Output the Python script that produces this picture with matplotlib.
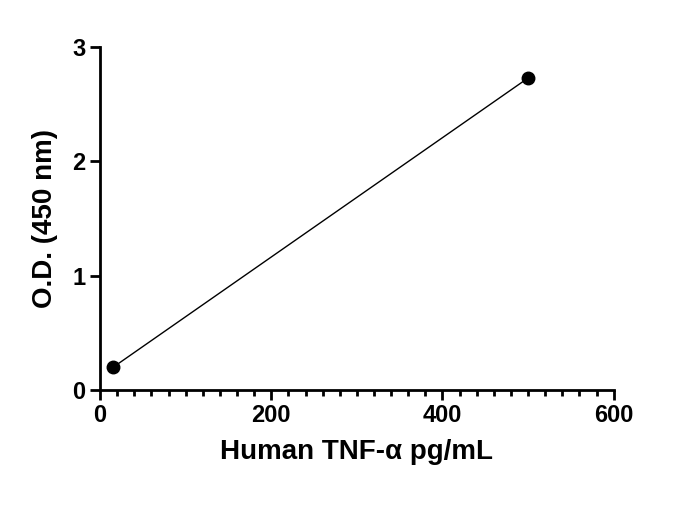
import matplotlib
matplotlib.use('Agg')
import matplotlib.pyplot as plt
from matplotlib.ticker import MultipleLocator

conc = [15.6, 500]
od = [0.2, 2.73]

plt.rcParams['font.family'] = ['Liberation Sans', 'DejaVu Sans']
plt.rcParams['font.weight'] = 'bold'

fig = plt.figure(figsize=(6.95, 5.07), dpi=100)
ax = fig.add_axes([0.144, 0.231, 0.739, 0.676])
ax.plot(conc, od, '-', color='black', lw=1, marker='o', ms=9)
ax.set_xlim(0, 600)
ax.set_ylim(0, 3)
ax.xaxis.set_major_locator(MultipleLocator(200))
ax.xaxis.set_minor_locator(MultipleLocator(20))
ax.yaxis.set_major_locator(MultipleLocator(1))
for s in ['top', 'right']:
    ax.spines[s].set_visible(False)
for s in ['left', 'bottom']:
    ax.spines[s].set_linewidth(2)
ax.tick_params(which='major', width=2, length=7, labelsize=17)
ax.tick_params(which='minor', width=2, length=4)
for lab in ax.get_xticklabels() + ax.get_yticklabels():
    lab.set_fontweight('bold')
ax.set_xlabel('Human TNF-α pg/mL', fontsize=20, fontweight='bold', labelpad=8)
ax.set_ylabel('O.D. (450 nm)', fontsize=20, fontweight='bold', labelpad=10)
fig.savefig('out.png')
